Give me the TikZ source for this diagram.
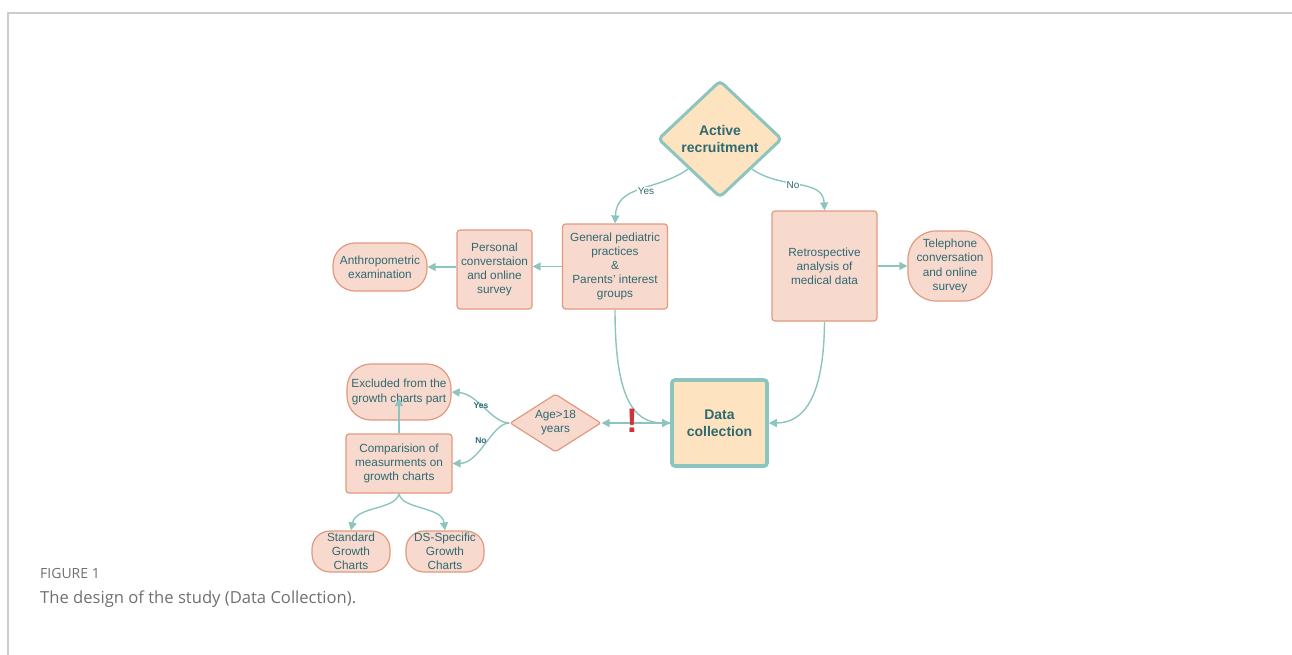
\documentclass[tikz,border=0pt]{standalone}
\usepackage{fontspec}
\setmainfont{Liberation Sans}
\newfontfamily\capfont{Open Sans}
\usetikzlibrary{shapes.geometric,arrows.meta}
\definecolor{tealline}{HTML}{8CC5BE}
\definecolor{tealtext}{HTML}{2F6A72}
\definecolor{pinkfill}{HTML}{F8D9CE}
\definecolor{pinkline}{HTML}{E19A80}
\definecolor{orangefill}{HTML}{FDE3C0}
\definecolor{framegray}{HTML}{CCCCCC}
\definecolor{capgray}{HTML}{707070}
\definecolor{alertred}{HTML}{D0343A}
\begin{document}
\begin{tikzpicture}
[
    x=1pt, y=-1pt,
    every node/.style={text=tealtext, align=center, font=\fontsize{11.8}{14.2}\selectfont},
    pinkbox/.style={draw=pinkline, fill=pinkfill, line width=1.2pt, rounded corners=3pt, inner sep=1pt},
    roundbox/.style={pinkbox, rounded corners=#1},
    decision/.style={diamond, draw=tealline, fill=orangefill, line width=3pt, rounded corners=4pt, inner sep=0pt,
        font=\fontsize{14}{17}\selectfont\bfseries},
    smalldecision/.style={diamond, draw=pinkline, fill=pinkfill, line width=1.2pt, rounded corners=2pt, inner sep=0pt},
    collect/.style={draw=tealline, fill=orangefill, line width=3.6pt, rounded corners=3pt,
        font=\fontsize{14}{17}\selectfont\bfseries},
    arr/.style={draw=tealline, line width=1.4pt, -{Triangle[length=8pt,width=8pt]}},
    lbl/.style={fill=white, inner sep=1pt, font=\fontsize{10}{12}\selectfont},
    smalllbl/.style={inner sep=0pt, font=\fontsize{8.5}{10}\selectfont\bfseries},
]
\useasboundingbox (0,0) rectangle (1292,655);
\draw[framegray, line width=1.2pt] (1292,13) -- (8,13) -- (8,655);

% top part
\node[decision, aspect=1.06, minimum width=124pt, minimum height=117pt] (act) at (720,139) {Active\\recruitment};
\node[pinkbox, minimum width=105pt, minimum height=85pt] (gen) at (615,266.5)
    {General pediatric\\practices\\\&\\Parents' interest\\groups};
\node[pinkbox, minimum width=75pt, minimum height=79pt] (pers) at (494.5,269.5)
    {Personal\\converstaion\\and online\\survey};
\node[roundbox=22pt, minimum width=94pt, minimum height=48pt] (anth) at (380,267) {Anthropometric\\examination};
\node[pinkbox, minimum width=105pt, minimum height=110pt] (ret) at (824.5,266)
    {Retrospective\\analysis of\\medical data};
\node[roundbox=28pt, minimum width=84pt, minimum height=70pt] (tel) at (950,266)
    {Telephone\\conversation\\and online\\survey};

% bottom part
\node[collect, minimum width=95pt, minimum height=86pt] (dc) at (719.5,423) {Data\\collection};
\node[smalldecision, aspect=1.57, minimum width=91pt, minimum height=58pt] (age) at (555.5,423) {Age>18\\years};
\node[roundbox=24pt, minimum width=104pt, minimum height=56pt] (exc) at (399,392)
    {Excluded from the\\growth charts part};
\node[pinkbox, minimum width=106pt, minimum height=59pt] (comp) at (399,463.5)
    {Comparision of\\measurments on\\growth charts};
\node[roundbox=18pt, minimum width=78pt, minimum height=41pt] (std) at (351,551.5) {Standard\\Growth\\Charts};
\node[roundbox=18pt, minimum width=78pt, minimum height=41pt] (ds) at (445,551.5) {DS-Specific\\Growth\\Charts};

% connectors
\draw[arr] (act.south west) .. controls (655,192) and (617,184) .. (gen.north);
\node[lbl] (yes1) at (646,191) {Yes};
\draw[arr] (act.south east) .. controls (782,190) and (823,178) .. (ret.north);
\node[lbl] (no1) at (793,185) {No};
\draw[arr] (gen.west) -- (gen.west -| pers.east);
\draw[arr] (pers.west |- anth.east) -- (anth.east);
\draw[arr] (ret.east |- tel.west) -- (tel.west);
\draw[arr] (gen.south) .. controls (615,395) and (632,423) .. (dc.west);
\draw[arr] (ret.south) .. controls (824,395) and (805,423) .. (dc.east);
\draw[arr] (dc.west) -- (age.east);
\node[text=alertred, font=\fontsize{34}{36}\selectfont\bfseries] (alert) at (632,421) {!};
\draw[arr] (age.west) .. controls (492,423) and (478,394) .. (exc.east);
\node[smalllbl] (yes2) at (481,406) {Yes};
\draw[arr] (age.west) .. controls (492,423) and (480,463) .. (comp.east);
\node[smalllbl] (no2) at (481,441) {No};
\coordinate (exctip) at (399,398);
\draw[arr] (comp.north) -- (exctip);
\draw[arr] (comp.south) .. controls (396,510) and (356,506) .. (std.north);
\draw[arr] (comp.south) .. controls (402,510) and (442,506) .. (ds.north);

% caption
\node[anchor=base west, inner sep=0pt, text=capgray, font=\capfont\fontsize{14}{16}\selectfont] (fig) at (40,578) {FIGURE 1};
\node[anchor=base west, inner sep=0pt, text=capgray, font=\capfont\fontsize{16.6}{19}\selectfont] (cap) at (40,603)
    {The design of the study (Data Collection).};
\end{tikzpicture}
\end{document}
